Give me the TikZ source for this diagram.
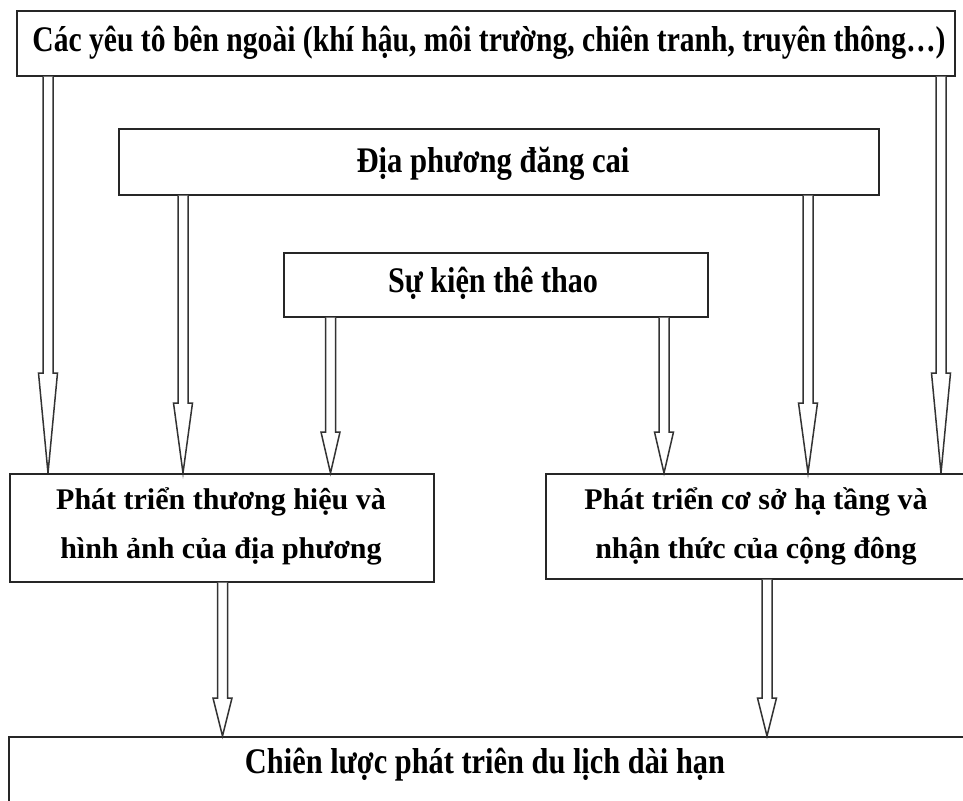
\documentclass[tikz,border=0pt]{standalone}
\usepackage{fontspec}
\setmainfont{Liberation Serif}
\usetikzlibrary{calc}
\tikzset{
  box/.style={draw=black!85, line width=1.6pt, rectangle, inner sep=0pt, anchor=north west},
  arrline/.style={draw=black!80, line width=1.5pt, line join=miter, fill=white},
  bigtxt/.style={font=\bfseries\fontsize{36}{40}\selectfont, anchor=base, inner sep=0pt},
  midtxt/.style={font=\bfseries\fontsize{30}{49}\selectfont, anchor=base, align=center, inner sep=0pt}
}
\newcommand\harrow[4]{%
  \path[arrline] let \p1=(#1.south -| #3), \p2=(#2.north -| #3) in
    ({\x1-5pt},\y1) -- ({\x1-5pt},{\y2+#4pt}) -- ({\x1-9.5pt},{\y2+#4pt}) -- (\x1,\y2)
    -- ({\x1+9.5pt},{\y2+#4pt}) -- ({\x1+5pt},{\y2+#4pt}) -- ({\x1+5pt},\y1);
}
\begin{document}
\begin{tikzpicture}[x=1pt,y=-1pt]
\fill[white] (0,0) rectangle (963,800);
\useasboundingbox (0,0) rectangle (963,800);
% boxes
\node[box, minimum width=938pt, minimum height=65pt] (b1) at (16,10) {};
\node[box, minimum width=760pt, minimum height=66pt] (b2) at (118,128) {};
\node[box, minimum width=424pt, minimum height=64pt] (b3) at (283,252) {};
\node[box, minimum width=424pt, minimum height=108pt] (b4) at (9,473) {};
\node[box, minimum width=421pt, minimum height=105pt] (b5) at (545,473) {};
\node[box, minimum width=960pt, minimum height=75pt] (b6) at (8,736) {};
% texts
\node[bigtxt] (t1) at (489,52) {\resizebox{913pt}{\height}{Các yêu tô bên ngoài (khí hậu, môi trường, chiên tranh, truyên thông…)}};
\node[bigtxt] (t2) at (493,172) {\resizebox{273pt}{\height}{Địa phương đăng cai}};
\node[bigtxt] (t3) at (493,292) {\resizebox{210pt}{\height}{Sự kiện thê thao}};
\node[midtxt] (t4) at (221,558) {Phát triển thương hiệu và\\hình ảnh của địa phương};
\node[midtxt] (t5) at (756,558) {Phát triển cơ sở hạ tầng và\\nhận thức của cộng đông};
\node[bigtxt] (t6) at (485,773) {\resizebox{480pt}{\height}{Chiên lược phát triên du lịch dài hạn}};
% arrow x positions
\coordinate (xa1) at (48,0);
\coordinate (xa2) at (941,0);
\coordinate (xa3) at (183,0);
\coordinate (xa4) at (808,0);
\coordinate (xa5) at (330.5,0);
\coordinate (xa6) at (664,0);
\coordinate (xa7) at (222.5,0);
\coordinate (xa8) at (767,0);
% arrows
\harrow{b1}{b4}{xa1}{100}
\harrow{b1}{b5}{xa2}{100}
\harrow{b2}{b4}{xa3}{70}
\harrow{b2}{b5}{xa4}{70}
\harrow{b3}{b4}{xa5}{41}
\harrow{b3}{b5}{xa6}{41}
\harrow{b4}{b6}{xa7}{38}
\harrow{b5}{b6}{xa8}{38}
\end{tikzpicture}
\end{document}
